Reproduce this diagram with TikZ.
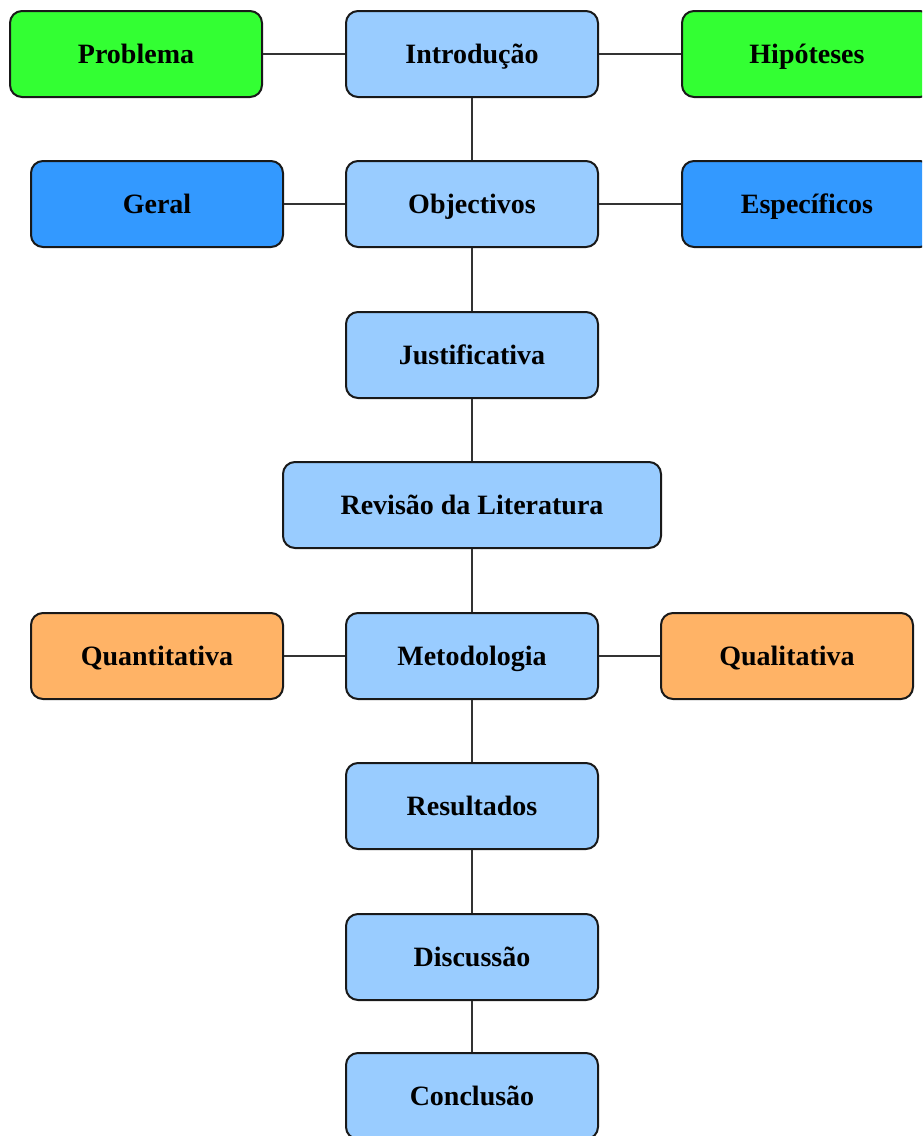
\documentclass[tikz,border=0pt]{standalone}
\usepackage{fontspec}
\setmainfont{Liberation Serif}
\definecolor{cgreen}{HTML}{33FF33}
\definecolor{cblue}{HTML}{3399FF}
\definecolor{clight}{HTML}{99CCFF}
\definecolor{corange}{HTML}{FFB366}
\definecolor{cline}{HTML}{333333}
\begin{document}
\begin{tikzpicture}[x=1pt,y=-1pt,
  box/.style={draw=black!90, line width=2pt, rounded corners=12pt, minimum width=252pt, minimum height=86pt, inner sep=0pt, text height=18.5pt, text depth=0pt, font=\fontsize{28}{33}\selectfont\bfseries, text=black},
  mainbox/.style={box, fill=clight},
  greenbox/.style={box, fill=cgreen},
  bluebox/.style={box, fill=cblue},
  orangebox/.style={box, fill=corange},
  link/.style={draw=cline, line width=1.8pt}]
\useasboundingbox (0,0) rectangle (922,1136);
\clip (0,0) rectangle (922,1136);
\node[mainbox] (intro) at (472,54) {Introdução};
\node[greenbox] (prob) at (136,54) {Problema};
\node[greenbox, minimum width=250pt] (hip) at (807,54) {Hipóteses};
\node[mainbox] (obj) at (472,204) {Objectivos};
\node[bluebox] (geral) at (157,204) {Geral};
\node[bluebox, minimum width=250pt] (esp) at (807,204) {Específicos};
\node[mainbox] (just) at (472,355) {Justificativa};
\node[mainbox, minimum width=378pt] (rev) at (472,505) {Revisão da Literatura};
\node[mainbox] (met) at (472,656) {Metodologia};
\node[orangebox] (quant) at (157,656) {Quantitativa};
\node[orangebox] (qual) at (787,656) {Qualitativa};
\node[mainbox] (res) at (472,806) {Resultados};
\node[mainbox] (disc) at (472,957) {Discussão};
\node[mainbox] (conc) at (472,1096) {Conclusão};
\path[link] (prob) -- (intro);
\path[link] (intro) -- (hip);
\path[link] (intro) -- (obj);
\path[link] (geral) -- (obj);
\path[link] (obj) -- (esp);
\path[link] (obj) -- (just);
\path[link] (just) -- (rev);
\path[link] (rev) -- (met);
\path[link] (quant) -- (met);
\path[link] (met) -- (qual);
\path[link] (met) -- (res);
\path[link] (res) -- (disc);
\path[link] (disc) -- (conc);
\end{tikzpicture}
\end{document}
